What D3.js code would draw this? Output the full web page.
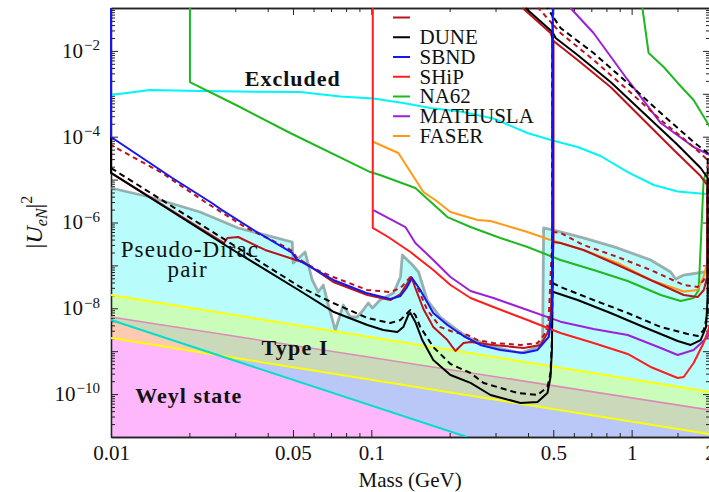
<!DOCTYPE html>
<html><head><meta charset="utf-8">
<script src="https://cdn.jsdelivr.net/npm/d3@7"></script>
<style>
body{margin:0;background:#fff;}
svg{display:block;font-family:"Liberation Serif",serif;}
</style></head><body>
<svg id="c" width="709" height="492" font-family="Liberation Serif, serif"></svg>
<script>
// ---------------- data (mass in GeV, |U_eN|^2) ----------------
const xMajorTicks = [0.01, 0.05, 0.1, 0.5, 1, 2];
const xTickLabels = ["0.01", "0.05", "0.1", "0.5", "1", "2"];
const xMinorTicks = [0.02,0.03,0.04,0.06,0.07,0.08,0.09,0.2,0.3,0.4,0.6,0.7,0.8,0.9,1.5];
const yLabelTicks = [1e-2, 1e-4, 1e-6, 1e-8, 1e-10];
const yTickExponents = ["\u22122", "\u22124", "\u22126", "\u22128", "\u221210"];

const legendNames = ["", "DUNE", "SBND", "SHiP", "NA62", "MATHUSLA", "FASER"];

// Pseudo-Dirac upper boundary (grey)
const pseudoDiracBoundary = [[0.01,6.37e-6],[0.0141,3.93e-6],[0.022,1.76e-6],[0.0308,7.45e-7],[0.0391,5.12e-7],[0.0497,3.51e-7],[0.0501,1.14e-7],[0.0557,2.05e-7],[0.0593,4.57e-8],[0.0625,2.4e-8],[0.0654,3.49e-8],[0.0684,1.19e-8],[0.0727,3.12e-9],[0.078,1.19e-8],[0.083,6.27e-9],[0.0883,6.27e-9],[0.0931,9.12e-9],[0.0973,1.33e-8],[0.101,1.02e-8],[0.108,1.56e-8],[0.1216,2.28e-8],[0.1294,5.37e-8],[0.1316,1.75e-7],[0.144,1.02e-7],[0.1518,7.02e-8],[0.164,1.56e-8],[0.184,6.27e-9],[0.2066,3.66e-9],[0.234,2.14e-9],[0.287,1.32e-9],[0.374,9.08e-10],[0.435,1.25e-9],[0.455,1.82e-9],[0.459,7.45e-7],[0.501,6.68e-7],[0.653,4.36e-7],[0.883,2.55e-7],[1.183,1.34e-7],[1.413,7.02e-8],[1.477,4.82e-8],[1.585,5.97e-8],[1.893,7.02e-8],[2.0,7.82e-8]];
// Type I band lines
const typeIUpper = [[0.01,2.04e-8],[2,1.12e-10]];
const typeIMiddle = [[0.01,6.27e-9],[2,4.26e-11]];
const typeILower = [[0.01,2.03e-9],[2,1.17e-11]];
// Weyl state boundary
const weylBoundary = [[0.01,5.33e-9],[0.233,1e-11]];
// upper cyan curve
const cyanCurve = [[0.01,9.37e-4],[0.0141,1.23e-3],[0.022,1.16e-3],[0.0313,1.13e-3],[0.0533,1.10e-3],[0.076,8.65e-4],[0.1018,7.76e-4],[0.1327,6.1e-4],[0.1686,4.67e-4],[0.22,3.86e-4],[0.2945,2.65e-4],[0.398,1.22e-4],[0.497,8.15e-5],[0.62,5.75e-5],[0.76,3.55e-5],[0.966,1.5e-5],[1.216,7.48e-6],[1.503,5.28e-6],[1.93,4.61e-6]];
// NA62
const na62Lower = [[0.0201,0.1],[0.0201,1.88e-3],[0.0313,4.92e-4],[0.0488,1.22e-4],[0.0991,1.5e-5],[0.108,1.28e-5],[0.1476,6.37e-6],[0.196,1.34e-6],[0.2405,7.85e-7],[0.313,4.36e-7],[0.398,2.69e-7],[0.533,1.34e-7],[0.714,7.82e-8],[0.966,4.33e-8],[1.294,2.04e-8],[1.542,1.48e-8],[1.73,1.74e-8],[1.81,2.67e-8],[1.89,9.8e-6],[1.93,1.43e-5],[2.05,1.43e-5]];
const na62Upper = [[1.10,0.1],[1.162,8.93e-3],[1.328,4.22e-3],[1.503,1.79e-3],[1.73,7.16e-4],[2.0,1.68e-4],[2.1,1.2e-4]];
// MATHUSLA
const mathuslaLower = [[0.1018,1.95e-6],[0.1352,7.85e-7],[0.1476,3.33e-7],[0.173,1.34e-7],[0.2014,5.37e-8],[0.2405,2.53e-8],[0.2945,1.74e-8],[0.398,9.12e-9],[0.533,4.88e-9],[0.714,3.29e-9],[0.966,2.39e-9],[1.294,1.19e-9],[1.503,8.15e-10],[1.73,1.07e-9],[1.96,2.14e-9],[2.05,5e-9]];
const mathuslaUpper = [[0.582,0.1],[0.714,2.61e-2],[0.966,2.1e-3],[1.294,2.08e-4],[1.73,5.75e-5],[2.0,3.74e-5]];
// SHiP
const shipCurve = [[0.1013,0.1],[0.1013,7.45e-7],[0.1161,4.59e-7],[0.1413,2.05e-7],[0.173,7.82e-8],[0.2014,3.49e-8],[0.2405,1.74e-8],[0.2945,1.07e-8],[0.398,5.33e-9],[0.533,2.65e-9],[0.714,1.55e-9],[0.966,8.61e-10],[1.183,4.29e-10],[1.503,2.37e-10],[1.585,2.5e-10],[1.73,5.31e-10],[1.89,1.55e-9],[2.0,4.08e-9],[2.05,8e-9]];
// FASER
const faserCurve = [[0.1015,7.64e-5],[0.127,4.17e-5],[0.1585,5.14e-6],[0.176,3.34e-6],[0.2014,1.76e-6],[0.256,1.14e-6],[0.287,1.08e-6],[0.343,7.85e-7],[0.398,6.01e-7],[0.488,3.91e-7],[0.653,2.29e-7],[0.883,1.14e-7],[1.183,4.57e-8],[1.585,2.47e-8],[1.79,2.67e-8],[1.89,5.37e-8],[1.96,1.34e-7],[2.0,2.99e-7]];
// SBND
const sbndCurve = [[0.01,0.1],[0.01,9.84e-5],[0.0172,1.09e-5],[0.0244,2.85e-6],[0.0267,1.95e-6],[0.0358,6.34e-7],[0.0497,1.95e-7],[0.0515,1.41e-7],[0.0557,1.08e-7],[0.0714,4.57e-8],[0.0957,2.28e-8],[0.1183,1.65e-8],[0.1294,1.94e-8],[0.1365,2.97e-8],[0.1434,5.08e-8],[0.1542,2.67e-8],[0.173,7.76e-9],[0.196,4.08e-9],[0.226,2.26e-9],[0.2624,1.4e-9],[0.313,1.07e-9],[0.3846,9.08e-10],[0.435,1.07e-9],[0.48,2.14e-9],[0.494,7.76e-9],[0.498,2.29e-7],[0.498,0.1]];
// DUNE (solid)
const duneLeft = [[0.01,0.1],[0.01,1.43e-5],[0.027,3.15e-7],[0.0533,2.53e-8],[0.0714,8.33e-9],[0.0966,4.08e-9],[0.1112,3.12e-9],[0.1259,2.8e-9],[0.1327,3.66e-9],[0.1387,6.98e-9],[0.1413,7.76e-9],[0.1476,4.8e-9],[0.157,1.82e-9],[0.173,6.24e-10],[0.2014,2.79e-10],[0.2405,1.82e-10],[0.287,9.53e-11],[0.374,6.21e-11],[0.435,6.55e-11],[0.475,1.06e-10],[0.488,2.5e-10],[0.494,1.07e-9],[0.4966,2.4e-8],[0.4966,0.0276],[0.391,0.1]];
const duneRight = [[0.4966,2.4e-8],[0.501,2.4e-8],[0.62,1.56e-8],[0.83,7.76e-9],[1.112,3.66e-9],[1.503,1.73e-9],[1.686,1.4e-9],[1.841,1.82e-9],[1.93,3.66e-9],[1.96,1.83e-8],[1.96,1.09e-5],[1.841,1.86e-5],[1.49,6.76e-5],[1.112,3.56e-4],[0.83,1.88e-3],[0.62,8.02e-3],[0.5105,0.02],[0.4966,0.0276]];
// DUNE (dashed)
const duneDashLeft = [[0.01,0.1],[0.01,1.86e-5],[0.0533,3.14e-8],[0.0714,1.33e-8],[0.0966,5.94e-9],[0.1183,4.54e-9],[0.1294,5.33e-9],[0.1376,7.76e-9],[0.1413,9.12e-9],[0.1476,6.98e-9],[0.1542,3.66e-9],[0.173,1.25e-9],[0.2014,5.03e-10],[0.2405,3.1e-10],[0.27,1.82e-10],[0.3646,1.06e-10],[0.435,9.53e-11],[0.475,1.47e-10],[0.488,3.1e-10],[0.494,1.82e-9],[0.4966,3.89e-8],[0.4966,0.0652],[0.475,0.1]];
const duneDashRight = [[0.4966,3.89e-8],[0.5333,3.14e-8],[0.714,1.56e-8],[0.966,7.76e-9],[1.294,3.66e-9],[1.641,2.52e-9],[1.794,2.26e-9],[1.893,3.12e-9],[1.96,7.76e-9],[1.96,4.17e-5],[1.73,7.52e-5],[1.294,3.56e-4],[0.966,1.79e-3],[0.714,8.93e-3],[0.5333,0.0342],[0.4966,0.0652]];
// unnamed dark-red (solid)
const darkRedLeft = [[0.01,0.1],[0.01,1.43e-5],[0.0272,3.33e-7],[0.028,4.36e-7],[0.0308,4.59e-7],[0.0391,2.29e-7],[0.0557,1.14e-7],[0.0714,4.1e-8],[0.0966,2.04e-8],[0.1183,1.56e-8],[0.1294,2.15e-8],[0.1376,3.89e-8],[0.1425,5.37e-8],[0.1476,2.97e-8],[0.1585,9.63e-9],[0.173,3.66e-9],[0.196,1.82e-9],[0.2104,1.01e-9],[0.226,1.55e-9],[0.2405,1.64e-9],[0.2945,1.4e-9],[0.3846,1.19e-9],[0.4467,1.4e-9],[0.475,2.65e-9],[0.488,5.33e-9],[0.501,3.51e-7],[0.501,0.017],[0.488,0.0261],[0.381,0.1]];
const darkRedRight = [[0.501,3.51e-7],[0.5333,3.33e-7],[0.653,2.29e-7],[0.883,1.02e-7],[1.183,4.57e-8],[1.585,2.04e-8],[1.794,1.83e-8],[1.893,2.67e-8],[1.95,5.37e-8],[1.95,7.48e-6],[1.841,1.21e-5],[1.452,4.9e-5],[1.112,2.45e-4],[0.83,1.44e-3],[0.62,6.13e-3],[0.501,0.017]];
// dark-red (dashed)
const redDashLeft = [[0.01,0.1],[0.01,6.41e-5],[0.0157,1.43e-5],[0.023,3.0e-6],[0.0327,7.85e-7],[0.0467,2.69e-7],[0.0497,2.17e-7],[0.0519,1.49e-7],[0.0619,7.82e-8],[0.0714,5.37e-8],[0.0966,2.67e-8],[0.1183,2.4e-8],[0.1294,2.97e-8],[0.1413,5.37e-8],[0.1503,3.14e-8],[0.164,9.12e-9],[0.184,3.66e-9],[0.2066,2.8e-9],[0.234,2.39e-9],[0.256,1.82e-9],[0.2945,1.55e-9],[0.374,1.4e-9],[0.435,1.55e-9],[0.467,2.65e-9],[0.48,5.33e-9],[0.494,2.69e-7],[0.4966,6.01e-7],[0.4966,0.0424],[0.4385,0.1]];
const redDashRight = [[0.4966,6.01e-7],[0.5333,5.69e-7],[0.653,2.99e-7],[0.883,1.57e-7],[1.183,7.82e-8],[1.585,3.49e-8],[1.794,3.14e-8],[1.893,4.57e-8],[1.96,6.65e-8],[1.96,2.86e-5],[1.73,5.75e-5],[1.294,2.45e-4],[0.966,1.23e-3],[0.714,6.13e-3],[0.5333,0.0261],[0.4966,0.0424]];

// region label anchors (mass, |U|^2)
const regionLabels = [
  {text:"Excluded", at:[0.0499,1.52e-3], size:22, bold:true, ls:1},
  {text:"Pseudo-Dirac", at:[0.0201,1.57e-7], size:23, bold:false, ls:1.1},
  {text:"pair", at:[0.0197,5.37e-8], size:23, bold:false, ls:1.1},
  {text:"Type I", at:[0.051,8.2e-10], size:22, bold:true, ls:1.2},
  {text:"Weyl state", at:[0.0199,6.2e-11], size:22, bold:true, ls:1}
];

// ---------------- styles ----------------
const FONT = "Liberation Serif, serif";
const C = {
  darkRed:"#b8141c", black:"#000", blue:"#1616f2", red:"#ff1e1e", green:"#1fb81f",
  purple:"#9b20d8", orange:"#ff9a14", cyan:"#00f6f6", teal:"#00dfcc",
  yellow:"#ffff00", pink:"#dd8ab8", grey:"rgba(125,145,145,0.72)",
  fCyan:"#b8fcfc", fGreen:"#cafdba", fGreyGreen:"#c9d9b9", fBlue:"#bac8f8",
  fSalmon:"#ffcab2", fMagenta:"#ffb7fb"
};
const legendColors = [C.darkRed, C.black, C.blue, C.red, C.green, C.purple, C.orange];

// ---------------- scales ----------------
const plot = {l:111, r:710, t:8, b:437};
const x = d3.scaleLog().domain([0.01, 2]).range([plot.l, plot.r]);
const y = d3.scaleLog().domain([1e-11, 1e-1]).range([plot.b, plot.t]);
const [xLo, xHi] = x.domain();
const [yLo, yHi] = y.domain();

const svg = d3.select("#c");
const defs = svg.append("defs");
defs.append("clipPath").attr("id","plotClip").append("rect")
  .attr("x", plot.l-2).attr("y", plot.t-1).attr("width", plot.r-plot.l+2).attr("height", plot.b-plot.t+1);
const line = d3.line().x(d=>x(d[0])).y(d=>y(d[1]));
const poly = pts => line(pts) + "Z";

// ---------------- fills ----------------
const fills = svg.append("g").attr("clip-path","url(#plotClip)");
const area = d3.area().x(d=>x(d[0])).y0(y(yLo)).y1(d=>y(d[1]));
fills.append("path").attr("d", area(pseudoDiracBoundary)).attr("fill", C.fCyan);
fills.append("path").attr("d", poly(typeIUpper.concat(typeIMiddle.slice().reverse()))).attr("fill", C.fGreen);
fills.append("path").attr("d", poly(typeIMiddle.concat(typeILower.slice().reverse()))).attr("fill", C.fGreyGreen);
const belowLower = typeILower.concat([[xHi, yLo],[xLo, yLo]]);
fills.append("path").attr("d", poly(belowLower)).attr("fill", C.fBlue);
const belowWeyl = weylBoundary.concat([[xLo, yLo]]);
fills.append("path").attr("d", poly(belowWeyl)).attr("fill", C.fSalmon);
defs.append("clipPath").attr("id","lowerClip").append("path").attr("d", poly(belowLower));
fills.append("path").attr("d", poly(belowWeyl)).attr("fill", C.fMagenta).attr("clip-path","url(#lowerClip)");

// ---------------- axes ----------------
function styleAxis(g){
  g.attr("font-family", FONT).attr("font-size",21);
  g.select(".domain").attr("stroke","#222").attr("stroke-width",1.3);
  g.selectAll(".tick line").attr("stroke","#222").attr("stroke-width",1);
  g.selectAll(".tick text").attr("fill","#111").attr("font-family", FONT);
}
const yAll = y.ticks(20);
const isDecade = v => Math.abs(Math.log10(v) - Math.round(Math.log10(v))) < 1e-6;
const yMajor = yAll.filter(isDecade);
const yMinor = yAll.filter(v => !isDecade(v));

const axes = svg.append("g");
axes.append("g").attr("transform",`translate(0,${plot.b})`)
  .call(d3.axisBottom(x).tickValues(xMajorTicks).tickSize(-7).tickSizeOuter(0).tickPadding(8).tickFormat((d,i)=>xTickLabels[i])).call(styleAxis);
axes.append("g").attr("transform",`translate(0,${plot.b})`)
  .call(d3.axisBottom(x).tickValues(xMinorTicks).tickSize(-4).tickSizeOuter(0).tickFormat("")).call(styleAxis);
axes.append("g").attr("transform",`translate(0,${plot.t})`)
  .call(d3.axisTop(x).tickValues(xMajorTicks).tickSize(-7).tickSizeOuter(0).tickFormat("")).call(styleAxis);
axes.append("g").attr("transform",`translate(0,${plot.t})`)
  .call(d3.axisTop(x).tickValues(xMinorTicks).tickSize(-4).tickSizeOuter(0).tickFormat("")).call(styleAxis);
axes.append("g").attr("transform",`translate(${plot.l},0)`)
  .call(d3.axisLeft(y).tickValues(yMajor).tickSize(-7).tickSizeOuter(0).tickFormat("")).call(styleAxis);
axes.append("g").attr("transform",`translate(${plot.l},0)`)
  .call(d3.axisLeft(y).tickValues(yMinor).tickSize(-4).tickSizeOuter(0).tickFormat("")).call(styleAxis);
axes.append("g").attr("transform",`translate(${plot.r},0)`)
  .call(d3.axisRight(y).tickValues(yMajor).tickSize(-7).tickSizeOuter(0).tickFormat("")).call(styleAxis);
axes.append("g").attr("transform",`translate(${plot.r},0)`)
  .call(d3.axisRight(y).tickValues(yMinor).tickSize(-4).tickSizeOuter(0).tickFormat("")).call(styleAxis);
const yLab = axes.append("g").attr("transform",`translate(${plot.l},0)`)
  .call(d3.axisLeft(y).tickValues(yLabelTicks).tickSize(0).tickSizeOuter(0).tickPadding(11).tickFormat("")).call(styleAxis);
yLab.select(".domain").remove();
yLab.selectAll(".tick text").each(function(d,i){
  const t = d3.select(this);
  t.text(null).attr("dy","0.3em");
  t.append("tspan").text("10");
  t.append("tspan").attr("dy","-0.5em").attr("font-size",15).attr("dx",1).text(yTickExponents[i]);
});

// ---------------- curves ----------------
const curves = svg.append("g").attr("clip-path","url(#plotClip)").attr("fill","none")
  .attr("stroke-linejoin","round");
function drawLine(data, color, width, dash){
  const p = curves.append("path").attr("d", line(data)).attr("stroke", color).attr("stroke-width", width);
  if (dash) p.attr("stroke-dasharray", dash);
  return p;
}
drawLine(pseudoDiracBoundary, C.grey, 2.8);
drawLine(typeIUpper, C.yellow, 2);
drawLine(typeILower, C.yellow, 2);
drawLine(typeIMiddle, C.pink, 1.6);
drawLine(weylBoundary, C.teal, 2);
drawLine(cyanCurve, C.cyan, 2);
drawLine(na62Lower, C.green, 2);
drawLine(na62Upper, C.green, 2);
drawLine(mathuslaLower, C.purple, 2);
drawLine(mathuslaUpper, C.purple, 2);
drawLine(faserCurve, C.orange, 2);
drawLine(darkRedLeft, C.darkRed, 2);
drawLine(darkRedRight, C.darkRed, 2);
drawLine(redDashLeft, C.darkRed, 2, "5,4");
drawLine(redDashRight, C.darkRed, 2, "5,4");
drawLine(duneDashLeft, C.black, 2, "6,4");
drawLine(duneDashRight, C.black, 2, "6,4");
drawLine(duneLeft, C.black, 2);
drawLine(duneRight, C.black, 2);
drawLine(shipCurve, C.red, 2);
drawLine(sbndCurve, C.blue, 2);

// ---------------- region labels ----------------
const labels = svg.append("g").attr("fill","#111").attr("text-anchor","middle").attr("font-family", FONT);
regionLabels.forEach(r=>{
  labels.append("text").attr("x", x(r.at[0])).attr("y", y(r.at[1]))
    .attr("font-size", r.size).attr("font-weight", r.bold ? "bold" : "normal")
    .attr("letter-spacing", r.ls).attr("font-family", FONT).text(r.text);
});

// axis titles
svg.append("text").attr("x", x(0.141)).attr("y", 487).attr("text-anchor","middle")
  .attr("font-size",21).attr("font-family", FONT).attr("fill","#111").text("Mass (GeV)");
const yt = svg.append("text").attr("transform","translate(42,222) rotate(-90)").attr("text-anchor","middle")
  .attr("font-size",24).attr("font-family", FONT).attr("fill","#111");
yt.append("tspan").text("|");
yt.append("tspan").attr("font-style","italic").text("U");
yt.append("tspan").attr("font-style","italic").attr("font-size",16).attr("dy",5).text("eN");
yt.append("tspan").attr("dy",-5).text("|");
yt.append("tspan").attr("font-size",16).attr("dy",-10).text("2");

// ---------------- legend ----------------
const leg = svg.append("g").attr("transform","translate(393,17.5)");
legendNames.forEach((name,i)=>{
  const row = leg.append("g").attr("transform",`translate(0,${i*19.75})`);
  row.append("line").attr("x1",0).attr("x2",17).attr("stroke",legendColors[i]).attr("stroke-width",2);
  if (name) row.append("text").attr("x",26.5).attr("y",6.8).attr("font-size",21)
    .attr("font-family", FONT).attr("fill","#111").text(name);
});
</script>
</body></html>
